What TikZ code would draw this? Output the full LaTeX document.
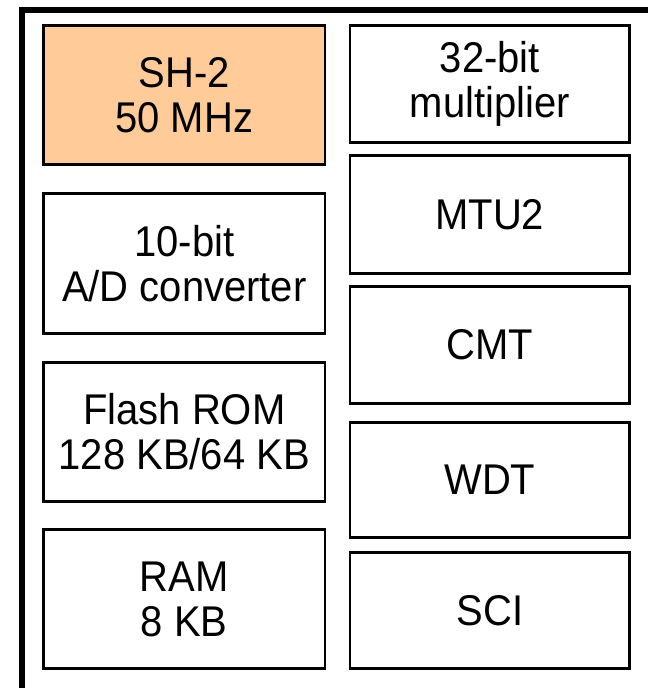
\documentclass[tikz,border=0pt]{standalone}
\usepackage{fontspec}
\setmainfont{Liberation Sans}[FakeStretch=0.93]
\usepackage{xcolor}
\definecolor{cpuorange}{RGB}{255,204,153}

\begin{document}
\begin{tikzpicture}[x=1pt,y=-1pt]
		\tikzstyle{every node}+=[inner sep=0pt]
		\tikzstyle{blk}=[draw=black, line width=2.6pt, rectangle, align=center, font=\fontsize{43}{45}\selectfont]
		\useasboundingbox (0,0) rectangle (648,688);
		% frame, cut at right and bottom
		\draw [black, line width=5.6pt] (22,688) -- (22,9.7) -- (648,9.7);
		% left column
		\node [blk, fill=cpuorange, minimum width=281.5, minimum height=139] (sh2) at (184.3,95) {SH-2\\50 MHz};
		\node [blk, minimum width=281.5, minimum height=140] (adc) at (184.3,263.5) {10-bit\\A/D converter};
		\node [blk, minimum width=281.5, minimum height=139] (flash) at (184.3,432) {Flash ROM\\128 KB/64 KB};
		\node [blk, minimum width=281.5, minimum height=139] (ram) at (184.3,599) {RAM\\8 KB};
		% right column
		\node [blk, minimum width=279.5, minimum height=117] (mult) at (489.8,84) {32-bit\\multiplier};
		\node [blk, minimum width=279.5, minimum height=118] (mtu) at (489.8,214.5) {MTU2};
		\node [blk, minimum width=279.5, minimum height=117] (cmt) at (489.8,345) {CMT};
		\node [blk, minimum width=279.5, minimum height=115] (wdt) at (489.8,480) {WDT};
		\node [blk, minimum width=279.5, minimum height=116] (sci) at (489.8,610.5) {SCI};
	\end{tikzpicture}
\end{document}
